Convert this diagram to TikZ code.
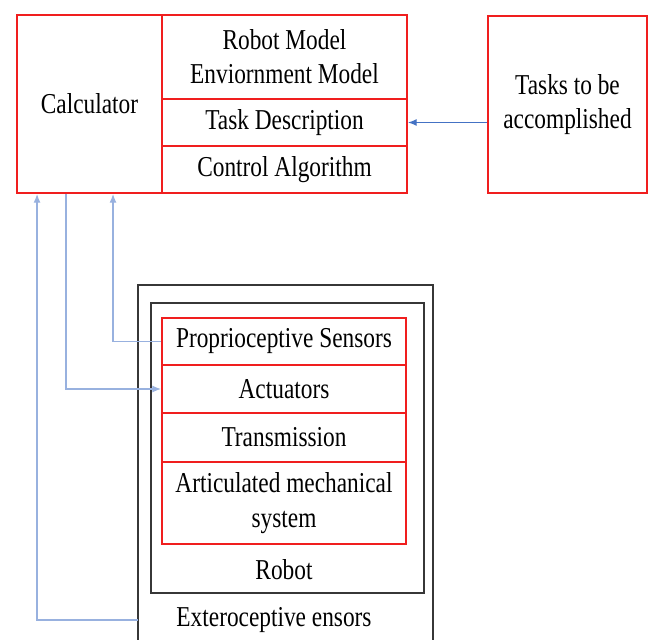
\documentclass[tikz,border=0pt]{standalone}
\usepackage{fontspec}
\setmainfont[FakeStretch=0.81]{Liberation Serif}
\usetikzlibrary{calc,arrows.meta}
\definecolor{boxred}{RGB}{240,30,30}
\definecolor{linkblue}{RGB}{68,114,196}
\definecolor{framegray}{RGB}{55,55,55}
\tikzset{
  cell/.style={draw=boxred, line width=1.1pt, align=center, inner sep=0pt},
  frame/.style={draw=framegray, line width=1.2pt},
  link/.style={draw=linkblue, line width=0.7pt, -{Latex[length=5pt,width=4pt]}},
  softlink/.style={draw=linkblue!55, line width=0.7pt, -{Latex[length=5pt,width=4pt]}}
}

\begin{document}
\begin{tikzpicture}[x=0.02cm,y=-0.02cm,font=\fontsize{16.4}{19.5}\selectfont]
				\useasboundingbox (0,0) rectangle (651,639);
				
				% controller block
				\node[cell,minimum width=2.9cm,minimum height=3.56cm] (calc) at (89.5,104) {Calculator};
				\node[cell,minimum width=4.9cm,minimum height=1.68cm] (model) at (284.5,57) {Robot Model\\Enviornment Model};
				\node[cell,minimum width=4.9cm,minimum height=0.94cm] (taskdesc) at (284.5,122.5) {Task Description};
				\node[cell,minimum width=4.9cm,minimum height=0.94cm] (ctrl) at (284.5,169.5) {Control Algorithm};
				
				\node[cell,minimum width=3.18cm,minimum height=3.54cm] (tasks) at (567.5,104.5) {Tasks to be\\accomplished};
				
				% robot block
				\draw[frame] (138,650) -- (138,285) -- (433,285) -- (433,650);
				\node[frame,minimum width=5.46cm,minimum height=5.8cm] (robot) at (287.5,448) {};
				
				\node[cell,minimum width=4.88cm,minimum height=0.94cm] (sens) at (284,341.5) {Proprioceptive Sensors};
				\node[cell,minimum width=4.88cm,minimum height=0.96cm] (act) at (284,389) {Actuators};
				\node[cell,minimum width=4.88cm,minimum height=0.98cm] (trans) at (284,437.5) {Transmission};
				\node[cell,minimum width=4.88cm,minimum height=1.64cm] (artic) at (284,503) {Articulated mechanical\\system};
				
				\node (robotlbl) at (284,570) {Robot};
				\node (extero) at (274,620) {Exteroceptive ensors};
				\coordinate (exin) at (138,620);
				
				% links
				\draw[link] (taskdesc.east -| tasks.west) -- (taskdesc.east);
				\draw[softlink] (exin) -| ([xshift=0.42cm]calc.south west);
				\draw[softlink] ([xshift=1cm]calc.south west) |- (act.west);
				\draw[softlink] (sens.west) -| ([xshift=1.94cm]calc.south west);
			\end{tikzpicture}
\end{document}
